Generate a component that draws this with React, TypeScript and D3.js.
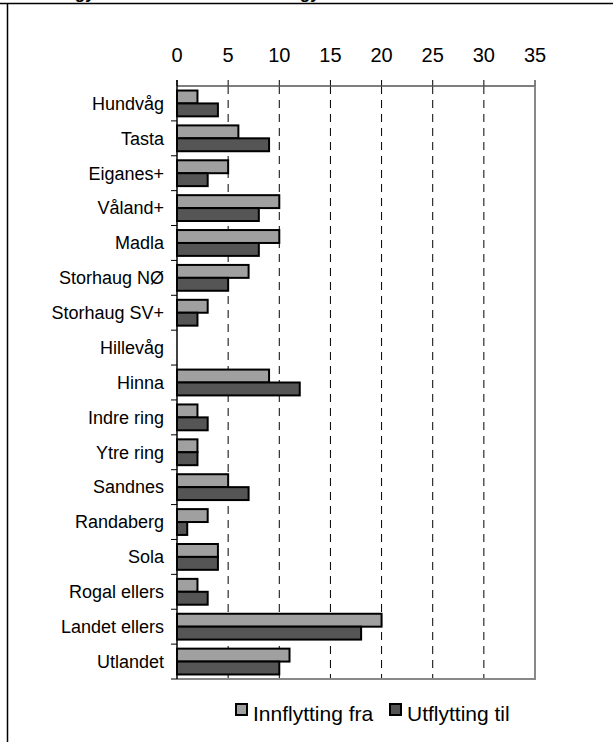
import React from "react";
import * as d3 from "d3";

const categories = [
  "Hundvåg", "Tasta", "Eiganes+", "Våland+", "Madla", "Storhaug NØ", "Storhaug SV+",
  "Hillevåg", "Hinna", "Indre ring", "Ytre ring", "Sandnes", "Randaberg", "Sola",
  "Rogal ellers", "Landet ellers", "Utlandet",
];
const innflytting = [2, 6, 5, 10, 10, 7, 3, 0, 9, 2, 2, 5, 3, 4, 2, 20, 11];
const utflytting = [4, 9, 3, 8, 8, 5, 2, 0, 12, 3, 2, 7, 1, 4, 3, 18, 10];
const xTicks = [0, 5, 10, 15, 20, 25, 30, 35];
const seriesNames = ["Innflytting fra", "Utflytting til"];
const seriesColors = ["#a0a0a0", "#555555"];

const W = 613, H = 742;
const left = 177, right = 535, top = 86, bottom = 679;
const FONT = "'Liberation Sans', Arial, sans-serif";

export default function App() {
  const x = d3.scaleLinear().domain([0, 35]).range([left, right]);
  const y = d3.scaleBand().domain(categories).range([top, bottom]).paddingInner(0).paddingOuter(0);
  const inner = d3.scaleBand().domain(["a", "b"]).range([0, y.bandwidth()]).paddingOuter(0.35).paddingInner(0);
  const series = [innflytting, utflytting];

  return (
    <svg width={W} height={H} style={{ position: "absolute", left: 0, top: 0, background: "#fff" }}>
      <rect x={0} y={0} width={W} height={H} fill="#fff" />
      {/* cut-off title descenders */}
      <text x={76} y={-1} fontFamily={FONT} fontSize={17} fontWeight="bold" fontStyle="italic">gy</text>
      <text x={301} y={-1} fontFamily={FONT} fontSize={17} fontWeight="bold" fontStyle="italic">gy</text>
      <line x1={0} x2={W} y1={3.5} y2={3.5} stroke="#000" strokeWidth={1.5} />
      <line x1={7.5} x2={7.5} y1={3} y2={H} stroke="#000" strokeWidth={1.5} />

      {/* grid lines */}
      {xTicks.filter((t) => t > 0 && t < 35).map((t) => (
        <line key={"g" + t} x1={x(t)} x2={x(t)} y1={top} y2={bottom} stroke="#000" strokeWidth={1} strokeDasharray="8,6" />
      ))}
      {/* top ticks + labels */}
      {xTicks.map((t) => (
        <g key={"t" + t}>
          <line x1={x(t)} x2={x(t)} y1={top - 6} y2={top} stroke="#000" strokeWidth={1} />
          <text x={x(t)} y={62} textAnchor="middle" fontFamily={FONT} fontSize={20}>{t}</text>
        </g>
      ))}
      {/* plot border */}
      <line x1={left} x2={right} y1={top} y2={top} stroke="#555" strokeWidth={1.5} />
      <line x1={right} x2={right} y1={top} y2={bottom} stroke="#888" strokeWidth={2} />
      <line x1={left} x2={right + 1} y1={bottom} y2={bottom} stroke="#888" strokeWidth={2} />

      {/* bars */}
      {categories.map((c, i) => (
        <g key={c}>
          {series.map((s, k) => {
            const v = s[i];
            if (v <= 0) return null;
            return (
              <rect key={k} x={x(0)} y={(y(c) as number) + (inner(k === 0 ? "a" : "b") as number)}
                width={x(v) - x(0)} height={inner.bandwidth()} fill={seriesColors[k]} stroke="#000" strokeWidth={2} />
            );
          })}
          <text x={164} y={(y(c) as number) + y.bandwidth() / 2} dy="0.35em" textAnchor="end" fontFamily={FONT} fontSize={18}>{c}</text>
        </g>
      ))}
      {/* left axis */}
      <line x1={left} x2={left} y1={top - 6} y2={bottom} stroke="#000" strokeWidth={1.5} />
      {categories.map((c, i) => (
        <line key={"lt" + i} x1={left - 6} x2={left} y1={(y(c) as number) + y.bandwidth()} y2={(y(c) as number) + y.bandwidth()} stroke="#000" strokeWidth={1} />
      ))}

      {/* legend */}
      {seriesNames.map((n, k) => {
        const lx = k === 0 ? 236 : 390;
        return (
          <g key={n}>
            <rect x={lx} y={704} width={11} height={11} fill={seriesColors[k]} stroke="#000" strokeWidth={2} />
            <text x={lx + 17} y={721} fontFamily={FONT} fontSize={21}>{n}</text>
          </g>
        );
      })}
    </svg>
  );
}
